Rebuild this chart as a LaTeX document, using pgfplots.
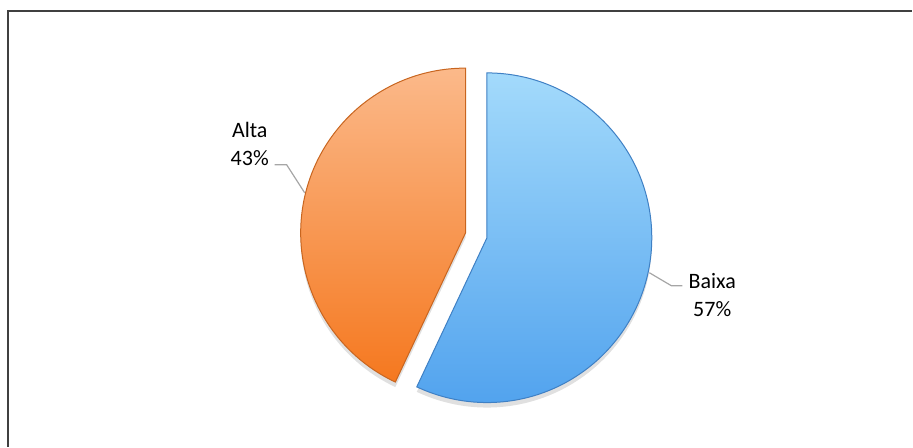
\documentclass[border=0pt]{standalone}
\usepackage{pgfplots}
\usepackage{pgfplotstable}
\pgfplotsset{compat=1.18}
\usetikzlibrary{calc}
\usepackage{fontspec}
\setmainfont{Carlito}

\definecolor{bluetop}{HTML}{A3DAFB}
\definecolor{bluebot}{HTML}{52A3EE}
\definecolor{blueedge}{HTML}{3F80C4}
\definecolor{orgtop}{HTML}{FBB98A}
\definecolor{orgbot}{HTML}{F5781F}
\definecolor{orgedge}{HTML}{C8651F}
\definecolor{leader}{HTML}{A6A6A6}
\definecolor{frame}{HTML}{404040}

% slice values (percent), clockwise from 12 o'clock
\pgfplotstableread{
label value
Baixa 57
Alta  43
}\piedata

\begin{document}
\begin{tikzpicture}
\pgfplotstablegetelem{0}{value}\of\piedata \let\vB\pgfplotsretval
\pgfplotstablegetelem{1}{value}\of\piedata \let\vA\pgfplotsretval
\pgfmathsetmacro{\endB}{90-3.6*\vB}
\pgfmathsetmacro{\endA}{90+3.6*\vA}
\pgfmathsetmacro{\midB}{90-1.8*\vB}
\pgfmathsetmacro{\midA}{90+1.8*\vA}
\def\R{82.5pt}
\def\ex{5.5pt}
\begin{axis}[
    scale only axis,
    width=456.5pt, height=223.5pt,
    xmin=0, xmax=913, ymin=0, ymax=447,
    hide axis, clip=false,
]
% frame (top and left edges visible)
\draw[frame, line width=1pt] (axis cs:8,0) -- (axis cs:8,436) -- (axis cs:913,436);

% soft shadows
\fill[black, opacity=0.12] ($(axis cs:476.75,211.4)+(\midB:\ex)+(0,-2.5pt)$)
    -- ++(90:\R) arc[start angle=90, end angle=\endB, radius=\R] -- cycle;
\fill[black, opacity=0.12] ($(axis cs:476.75,211.4)+(\midA:\ex)+(0,-2.5pt)$)
    -- ++(90:\R) arc[start angle=90, end angle=\endA, radius=\R] -- cycle;

% Baixa
\path[top color=bluetop, bottom color=bluebot, draw=blueedge, line width=0.5pt]
    ($(axis cs:476.75,211.4)+(\midB:\ex)$)
    -- ++(90:\R) arc[start angle=90, end angle=\endB, radius=\R] -- cycle;
% Alta
\path[top color=orgtop, bottom color=orgbot, draw=orgedge, line width=0.5pt]
    ($(axis cs:476.75,211.4)+(\midA:\ex)$)
    -- ++(90:\R) arc[start angle=90, end angle=\endA, radius=\R] -- cycle;

% leader lines
\draw[leader, line width=0.6pt] (axis cs:275,282) -- (axis cs:287,282) -- (axis cs:305,254);
\draw[leader, line width=0.6pt] (axis cs:650,174) -- (axis cs:672,161) -- (axis cs:683,161);

% labels
\node[align=center, font=\fontsize{11}{14}\selectfont, inner sep=0pt]
    at (axis cs:250,303) {Alta\\43\%};
\node[align=center, font=\fontsize{11}{14}\selectfont, inner sep=0pt]
    at (axis cs:713,152) {Baixa\\57\%};

\path (axis cs:0,0) (axis cs:913,447);
\end{axis}
\end{tikzpicture}
\end{document}
